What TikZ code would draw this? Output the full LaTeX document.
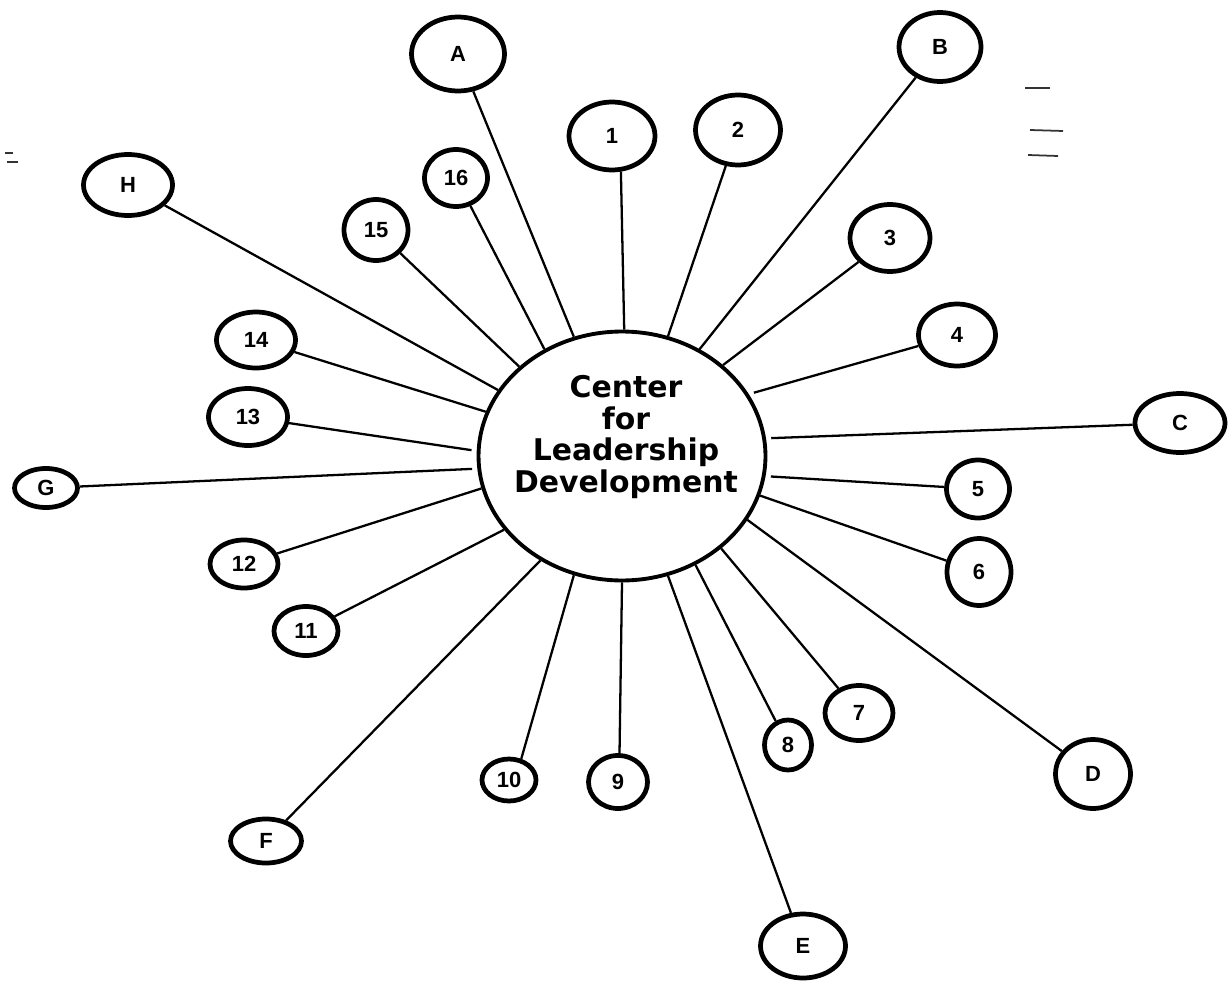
\documentclass[tikz,border=0pt]{standalone}
\usepackage{fontspec}
\newfontfamily\ctrfont{DejaVu Sans}
\newfontfamily\satfont{Liberation Sans}
\usetikzlibrary{shapes.geometric}
\tikzset{
  ctrnode/.style={ellipse,draw=black,line width=2.2pt,minimum width=5.74cm,minimum height=4.98cm,inner sep=0pt},
  ctrtext/.style={align=center,inner sep=0pt,font=\ctrfont\bfseries\fontsize{17}{18.1}\selectfont},
  satnode/.style 2 args={ellipse,draw=black,line width=2.7pt,inner sep=0pt,
    minimum width=#1*0.02cm,minimum height=#2*0.02cm,font=\satfont\bfseries\fontsize{12.5}{14}\selectfont},
  spoke/.style={line width=1.3pt,black},
  gapspoke/.style={spoke,shorten >=3pt},
  scanmark/.style={line width=1pt,black!80}
}

\begin{document}
\begin{tikzpicture}[x=0.02cm,y=-0.02cm]
  \useasboundingbox (0,0) rectangle (1230,980);

  %% hub
  \node[ctrnode] (ctr) at (622,456) {};
  \node[ctrtext] (ctrlbl) at (626,437) {Center\\for\\Leadership\\Development};

  %% lettered satellites
  \node[satnode={93}{74}] (A) at (458,54) {A};
  \node[satnode={82}{69}] (B) at (940,47) {B};
  \node[satnode={90}{59}] (C) at (1180,423) {C};
  \node[satnode={75}{69}] (D) at (1093,774) {D};
  \node[satnode={85}{64}] (E) at (803,946) {E};
  \node[satnode={71}{44}] (F) at (266,841) {F};
  \node[satnode={63}{39}] (G) at (46,488) {G};
  \node[satnode={89}{61}] (H) at (128,185) {H};

  %% numbered satellites
  \node[satnode={86}{68}] (n1) at (612,136) {1};
  \node[satnode={85}{70}] (n2) at (738,130) {2};
  \node[satnode={80}{67}] (n3) at (890,238) {3};
  \node[satnode={77}{62}] (n4) at (957,335) {4};
  \node[satnode={63}{58}] (n5) at (978,489) {5};
  \node[satnode={64}{67}] (n6) at (979,572) {6};
  \node[satnode={68}{55}] (n7) at (859,713) {7};
  \node[satnode={47}{50}] (n8) at (788,745) {8};
  \node[satnode={59}{53}] (n9) at (618,782) {9};
  \node[satnode={54}{42}] (n10) at (509,780) {10};
  \node[satnode={64}{49}] (n11) at (306,631) {11};
  \node[satnode={68}{48}] (n12) at (244,564) {12};
  \node[satnode={79}{57}] (n13) at (248,417) {13};
  \node[satnode={79}{56}] (n14) at (256,340) {14};
  \node[satnode={64}{61}] (n15) at (376,230) {15};
  \node[satnode={63}{57}] (n16) at (456,178) {16};

  %% spokes
  \draw[spoke] (A) -- (ctr.112);
  \draw[spoke] (B) -- (ctr.54);
  \draw[gapspoke] (C) -- (ctr.7);
  \draw[spoke] (D) -- (ctr.-27);
  \draw[spoke] (E) -- (ctr.-69);
  \draw[spoke] (F) -- (ctr.-128);
  \draw[gapspoke] (G) -- (ctr.-175);
  \draw[spoke] (H) -- (ctr.152);
  \draw[spoke] (n1.-76) -- (ctr.89);
  \draw[spoke] (n2) -- (ctr.69);
  \draw[spoke] (n3) -- (ctr.42);
  \draw[gapspoke] (n4) -- (ctr.26);
  \draw[gapspoke] (n5) -- (ctr.-8);
  \draw[spoke] (n6) -- (ctr.-16);
  \draw[spoke] (n7) -- (ctr.-43);
  \draw[spoke] (n8) -- (ctr.-56);
  \draw[spoke] (n9.87) -- (ctr.-90);
  \draw[spoke] (n10.60) -- (ctr.-112);
  \draw[spoke] (n11) -- (ctr.-148);
  \draw[spoke] (n12) -- (ctr.-167);
  \draw[gapspoke] (n13) -- (ctr.178);
  \draw[spoke] (n14) -- (ctr.162);
  \draw[spoke] (n15) -- (ctr.139);
  \draw[spoke] (n16) -- (ctr.126);

  % stray marks from the page
  \draw[scanmark] (1025,88) -- (1050,88);
  \draw[scanmark] (1030,130) -- (1063,131);
  \draw[scanmark] (1028,155) -- (1058,156);
  \draw[scanmark] (5,153) -- (13,153);
  \draw[scanmark] (7,162) -- (18,162);
\end{tikzpicture}
\end{document}
